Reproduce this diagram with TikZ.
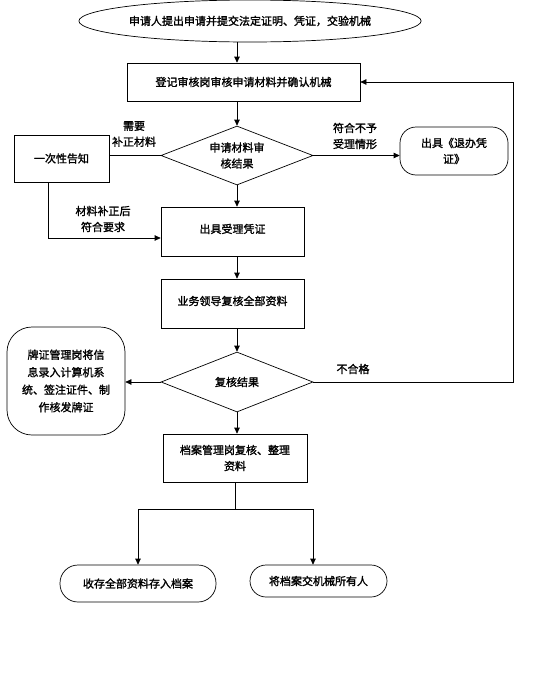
\documentclass[tikz,border=0pt]{standalone}
\usepackage{fontspec}
\setmainfont{Noto Sans CJK SC}[AutoFakeBold=1.6]
\usetikzlibrary{shapes.geometric,arrows.meta}
\begin{document}
\begin{tikzpicture}[x=1pt,y=-1pt,
  every node/.style={font=\fontsize{11}{16}\selectfont\bfseries, align=center, inner sep=0pt},
  box/.style={draw, line width=0.7pt, rectangle},
  rbox/.style={draw, line width=0.7pt, rectangle, rounded corners=#1},
  dia/.style={draw, line width=0.7pt, diamond, aspect=2.58},
  ell/.style={draw, line width=0.7pt, ellipse},
  conn/.style={line width=0.7pt},
  arr/.style={line width=0.7pt, -{Triangle[length=6pt,width=5.5pt]}},
  lbl/.style={font=\fontsize{11}{16}\selectfont\bfseries}
]
\useasboundingbox (0,0) rectangle (543,699);
\node[ell, minimum width=300pt, minimum height=42pt] (top) at (250,21) {申请人提出申请并提交法定证明、凭证，交验机械};
\node[box, minimum width=233pt, minimum height=38pt] (b1) at (243.5,82) {登记审核岗审核申请材料并确认机械};
\node[dia, minimum width=152pt, minimum height=59pt] (d1) at (237,155.5) {申请材料审\\核结果};
\node[box, minimum width=95pt, minimum height=47pt] (left1) at (61.5,158.5) {一次性告知};
\node[rbox=16pt, minimum width=108pt, minimum height=48pt] (right1) at (454,151) {出具《退办凭\\证》};
\node[box, minimum width=143pt, minimum height=49pt] (b2) at (232.5,231.5) {\raisebox{6pt}{出具受理凭证}};
\node[box, minimum width=143pt, minimum height=49pt] (b3) at (232.5,303.5) {\raisebox{6pt}{业务领导复核全部资料}};
\node[dia, minimum width=152pt, minimum height=60pt] (d2) at (237,382) {复核结果};
\node[rbox=25pt, minimum width=118pt, minimum height=108pt, font=\fontsize{11}{17.5}\selectfont\bfseries] (left2) at (66,381) {牌证管理岗将信\\息录入计算机系\\统、签注证件、制\\作核发牌证};
\node[box, minimum width=144pt, minimum height=48pt] (b4) at (235,458) {档案管理岗复核、整理\\资料};
\node[rbox=18pt, minimum width=156pt, minimum height=37pt] (e1) at (138,583.5) {收存全部资料存入档案};
\node[rbox=16pt, minimum width=137pt, minimum height=32pt] (e2) at (318.5,581) {将档案交机械所有人};

\node[lbl] (l1) at (134,134) {需要\\补正材料};
\node[lbl] (l2) at (355,136) {符合不予\\受理情形};
\node[lbl] (l3) at (103,219) {材料补正后\\符合要求};
\node[lbl] (l4) at (353,369) {不合格};

\coordinate (c1) at (48,238);
\coordinate (fb) at (513,82);
\coordinate (j) at (235,509);
\coordinate (jl) at (138,509);
\coordinate (jr) at (313,509);

\draw[arr] (top.south -| d1.center) -- (b1.north -| d1.center);
\draw[arr] (b1.south -| d1.center) -- (d1.north);
\draw[conn] (d1.west) -- (d1.west -| left1.east);
\draw[arr] (d1.east) -- (d1.east -| right1.west);
\draw[arr] (left1.south -| c1) |- (b2.west |- c1);
\draw[arr] (d1.south) -- (b2.north -| d1.center);
\draw[arr] (b2.south -| d1.center) -- (b3.north -| d1.center);
\draw[arr] (b3.south -| d1.center) -- (d2.north);
\draw[arr] (d2.west) -- (left2.east |- d2.west);
\draw[arr] (d2.east) -| (fb) -- (b1.east);
\draw[arr] (d2.south) -- (b4.north -| d2.south);
\draw[conn] (b4.south -| j) -- (j);
\draw[conn] (jl) -- (jr);
\draw[arr] (jl) -- (e1.north -| jl);
\draw[arr] (jr) -- (e2.north -| jr);
\end{tikzpicture}
\end{document}
